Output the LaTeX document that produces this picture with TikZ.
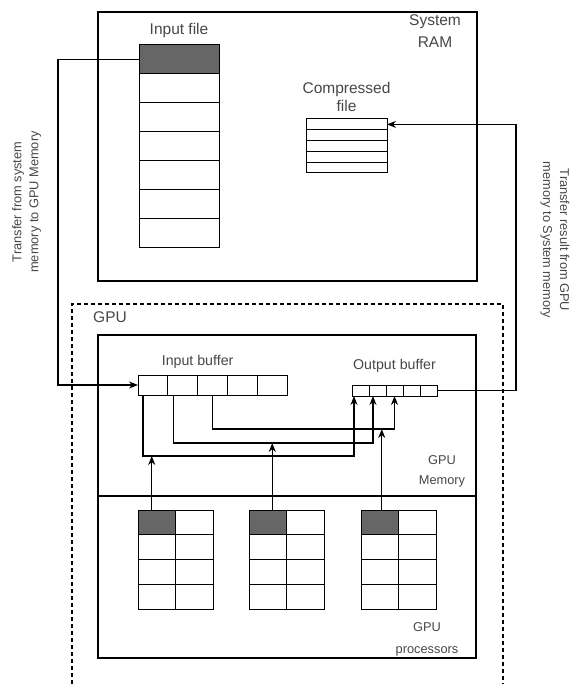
\documentclass[tikz,border=0pt]{standalone}
\usepackage{fontspec}
\setmainfont{Liberation Sans}
\usetikzlibrary{arrows.meta,positioning}

\begin{document}
\begin{tikzpicture}[x=1pt,y=-1pt,inner sep=0pt,outer sep=0pt,line width=1.1pt,
>={Stealth[length=9pt,width=7pt]},
box/.style={draw,rectangle},
cell/.style={draw,rectangle,fill=white,line width=1pt},
darkcell/.style={cell,fill=black!60},
lbl/.style={text=black!72,align=center},
bigtxt/.style={lbl,font=\fontsize{15.5}{20}\selectfont},
midtxt/.style={lbl,font=\fontsize{14.2}{18}\selectfont},
smalltxt/.style={lbl,font=\fontsize{12.8}{17}\selectfont}]
\useasboundingbox (0,0) rectangle (570,684);

% system RAM
\draw (287.5,146.5) node[box,minimum width=379pt,minimum height=269pt] (ram) {};
\draw (435,31) node[bigtxt,font=\fontsize{15.5}{22}\selectfont] (ramlbl) {System\\RAM};

% input file
\node[darkcell,minimum width=80pt,minimum height=28.86pt] (inf1) at (179,59.43) {};
\foreach \i in {2,...,7}
  \node[cell,minimum width=80pt,minimum height=28.86pt] (inf\i) at (179,{45+28.86*(\i-0.5)}) {};
\node[bigtxt,above=7pt of inf1] (inflbl) {Input file};

% compressed file
\foreach \i in {1,...,5}
  \node[cell,minimum width=81pt,minimum height=10.8pt] (cf\i) at (346.5,{119+10.8*(\i-0.5)}) {};
\node[bigtxt,font=\fontsize{15.5}{18}\selectfont,above=7pt of cf1] (cflbl) {Compressed\\file};

% GPU
\draw[dash pattern=on 4pt off 3pt] (72,684) -- (72,304) -- (503,304) -- (503,684);
\draw (110,317) node[bigtxt] (gpulbl) {GPU};
\draw (287,415.5) node[box,minimum width=378pt,minimum height=161pt] (gpumem) {};
\draw (287,577) node[box,minimum width=378pt,minimum height=162pt] (gpuproc) {};
\draw (442,471) node[smalltxt,font=\fontsize{12.8}{20}\selectfont] (memlbl) {GPU\\Memory};
\draw (427,639) node[smalltxt,font=\fontsize{12.8}{22}\selectfont] (proclbl) {GPU\\processors};

% buffers
\foreach \i in {1,...,5}
  \node[cell,minimum width=29.8pt,minimum height=20pt] (ib\i) at ({138+29.8*(\i-0.5)},385) {};
\foreach \i in {1,...,5}
  \node[cell,minimum width=17pt,minimum height=11pt] (ob\i) at ({352+17*(\i-0.5)},390.5) {};
\node[midtxt,above=7pt of ib3.north west] (iblbl) {Input buffer};
\node[midtxt,above=13pt of ob3] (oblbl) {Output buffer};

% processors
\foreach \p/\x in {1/138,2/249,3/361} {
  \foreach \r in {1,...,4}
    \foreach \c in {1,2}
      \node[cell,minimum width=37.5pt,minimum height=24.75pt] (pr\p-\r\c) at ({\x+37.5*(\c-0.5)},{510+24.75*(\r-0.5)}) {};
  \node[darkcell,minimum width=37.5pt,minimum height=24.75pt] (pr\p-11) at ({\x+18.75},522.4) {};
}

% transfers
\draw[->] (inf1.west) -- ++(-81,0) |- (ib1.west);
\draw[->] (ob5.east) -- ++(79,0) |- (cf1.east);
\node[smalltxt,rotate=90] (tolbl) at (26.5,202) {Transfer from system\\memory to GPU Memory};
\node[smalltxt,rotate=-90] (fromlbl) at (555,240) {Transfer result from GPU\\memory to System memory};

% buffer to buffer
\draw[->] ([xshift=5pt]ib1.south west) -- ++(0,61) -| ([xshift=2pt]ob1.south west);
\draw[->] ([xshift=6pt]ib2.south west) -- ++(0,48) -| ([xshift=4pt]ob2.south west);
\draw[->] (ib3.south) -- ++(0,34) -| (ob3.south);

% processors to memory
\draw[->] ([xshift=-5pt]pr1-11.north) -- ++(0,-54);
\draw[->] ([xshift=4.5pt]pr2-11.north) -- ++(0,-67);
\draw[->] ([xshift=2pt]pr3-11.north) -- ++(0,-81);
\end{tikzpicture}
\end{document}
